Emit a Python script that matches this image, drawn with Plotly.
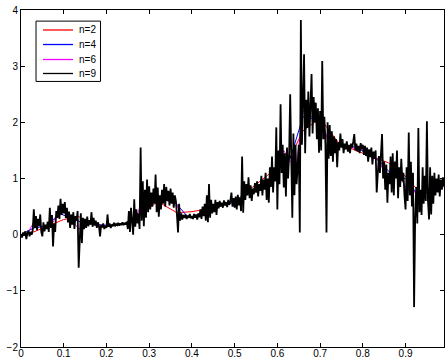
import plotly.graph_objects as go

# ---------------- data ----------------
# n=2 approximation (coarse, red)
x_n2 = [0.0, 0.03, 0.10, 0.135, 0.19, 0.255, 0.32, 0.365, 0.40, 0.455, 0.50, 0.52,
        0.63, 0.66, 0.70, 0.745, 0.80, 0.86, 0.89, 0.94, 0.99]
y_n2 = [0.0, 0.05, 0.27, 0.32, 0.13, 0.21, 0.59, 0.39, 0.41, 0.48, 0.59, 0.71,
        1.38, 1.85, 2.07, 1.62, 1.45, 1.28, 1.12, 0.70, 0.98]

# n=4 approximation (blue), step 0.03
x_step_n4 = 0.03
y_n4 = [0.00, 0.12, 0.15, 0.38, 0.28, 0.20, 0.18, 0.16, 0.19, 0.28,
        0.62, 0.62, 0.58, 0.32, 0.33, 0.48, 0.55, 0.58, 0.80, 0.85,
        1.20, 1.35, 2.10, 2.05, 1.70, 1.58, 1.56, 1.45, 1.30, 1.05,
        1.00, 0.70, 0.85, 0.88]

# n=6 approximation (magenta), step 0.015
x_step_n6 = 0.015
y_n6 = [0.00, 0.02, 0.22, 0.15, 0.12, 0.22, 0.45, 0.40, 0.25, 0.10,
        0.18, 0.20, 0.18, 0.14, 0.16, 0.18, 0.19, 0.25, 0.30, 0.65,
        0.65, 0.68, 0.62, 0.66, 0.62, 0.33, 0.32, 0.32, 0.38, 0.45,
        0.50, 0.52, 0.55, 0.58, 0.58, 0.72, 0.80, 0.85, 0.88, 0.95,
        1.25, 1.50, 1.30, 1.25, 2.20, 2.15, 2.00, 2.05, 1.60, 1.60,
        1.58, 1.57, 1.55, 1.52, 1.45, 1.40, 1.30, 1.00, 1.05, 1.05,
        0.85, 0.85, 0.65, 0.80, 0.80, 0.88, 0.85]

# n=9 approximation (fine, black), step 0.0025
x_step_n9 = 0.0025
y_n9 = [
    0.00, -0.05, 0.04, -0.02, 0.06, -0.08, 0.03, 0.07, -0.03, 0.05, 0.00, 0.08, 0.45, 0.12, 0.33, 0.08, 0.28, 0.15, 0.36, 0.05,
    -0.03, 0.22, 0.06, 0.18, 0.10, 0.23, 0.05, 0.48, 0.12, 0.35, -0.21, 0.20, 0.05, 0.42, 0.30, 0.52, 0.28, 0.64, 0.35, 0.55,
    0.38, 0.58, 0.30, 0.48, 0.22, 0.41, 0.12, 0.36, 0.18, 0.40, 0.10, 0.33, 0.25, 0.42, -0.59, 0.05, 0.38, -0.15, 0.30, 0.10,
    0.28, 0.12, 0.32, 0.15, 0.26, 0.18, 0.40, 0.14, 0.30, 0.16, 0.25, 0.12, 0.22, 0.15, -0.03, 0.17, 0.13, 0.20, 0.10, 0.16,
    0.12, 0.36, 0.14, 0.20, 0.12, 0.18, 0.15, 0.21, 0.15, 0.19, 0.17, 0.21, 0.16, 0.20, 0.17, 0.22, 0.17, 0.21, 0.18, 0.23,
    0.10, 0.42, 0.05, 0.48, 0.15, 0.00, 0.63, 0.14, 0.45, 0.20, 0.38, 0.10, 1.55, 0.25, 0.95, 0.15, 0.80, 0.30, 0.98, 0.40,
    0.86, 0.45, 0.75, 0.50, 0.82, 0.55, 1.07, 0.40, 0.84, 0.32, 0.70, 0.45, 0.80, 0.55, 0.90, 0.50, 0.85, 0.60, 0.78, 0.52,
    0.82, 0.55, 0.75, 0.48, 0.70, 0.60, 0.35, 0.04, 0.55, 0.25, 0.38, 0.27, 0.35, 0.30, 0.36, 0.28, 0.34, 0.30, 0.37, 0.29,
    0.33, 0.28, 0.37, 0.30, 0.36, 0.27, 0.38, 0.31, 0.45, 0.28, 0.50, 0.33, 0.55, 0.25, 0.70, 0.22, 0.90, 0.30, 0.62, 0.38,
    0.55, 0.40, 0.62, 0.35, 0.58, 0.47, 0.60, 0.50, 0.57, 0.48, 0.61, 0.52, 0.58, 0.49, 0.62, 0.53, 0.60, 0.75, 0.50, 0.65,
    0.48, 0.68, 0.45, 0.71, 0.52, 0.66, 0.42, 1.39, 0.39, 0.95, 0.62, 0.90, 0.70, 1.02, 0.65, 0.88, 0.60, 0.82, 0.72, 0.92,
    0.75, 0.95, 0.68, 0.90, 0.78, 1.05, 0.70, 0.98, 0.80, 1.10, 0.62, 1.00, 0.57, 1.20, 0.85, 1.39, 0.75, 1.20, 0.95, 1.91,
    0.45, 1.50, 0.90, 2.32, 1.10, 1.60, 0.84, 1.45, 0.68, 1.55, 1.00, 1.40, 2.50, 0.90, 0.30, 1.80, 0.70, 1.60, 0.90, 1.20,
    1.60, 0.04, 3.82, 1.60, 2.30, 3.21, 1.45, 2.40, 1.90, 2.55, 1.75, 2.20, 2.86, 1.80, 2.45, 2.00, 2.35, 1.70, 2.25, 1.46,
    2.20, 1.50, 3.09, 1.70, 2.10, 1.60, 0.04, 2.00, 1.35, 1.95, 1.40, 1.84, 1.30, 1.75, 1.45, 1.70, 1.20, 1.65, 1.50, 1.80,
    1.55, 1.70, 1.45, 1.62, 1.52, 1.66, 1.48, 1.60, 1.45, 1.62, 1.55, 1.65, 1.79, 1.50, 1.62, 1.48, 1.58, 1.45, 1.63, 1.52,
    1.60, 1.42, 1.58, 1.40, 1.55, 1.30, 1.52, 1.38, 1.55, 1.25, 1.48, 1.35, 1.50, 0.75, 1.20, 1.40, 1.10, 1.55, 1.79, 1.00,
    1.30, 0.80, 1.25, 0.57, 1.10, 0.90, 1.39, 0.75, 1.45, 0.70, 1.30, 1.00, 1.50, 0.65, 1.20, 0.85, 1.35, 0.95, 1.10, 0.70,
    0.45, 1.20, 0.60, 1.82, 0.70, 1.30, 0.50, 1.10, -1.29, 0.30, 0.85, 0.20, 1.90, 0.40, 0.80, 0.35, 1.20, 0.55, 1.05, 0.60,
    2.02, 0.60, 0.27, 1.20, 0.36, 1.05, 0.55, 1.10, 0.70, 1.00, 0.75, 1.07, 0.68, 0.98, 0.80, 1.02, 0.86,
]

series_names = ["n=2", "n=4", "n=6", "n=9"]
series_colors = ["#ff0000", "#0000ff", "#ff00ff", "#000000"]

x_tick_vals = [0, 0.1, 0.2, 0.3, 0.4, 0.5, 0.6, 0.7, 0.8, 0.9]
x_tick_text = ["0", "0.1", "0.2", "0.3", "0.4", "0.5", "0.6", "0.7", "0.8", "0.9"]
y_tick_vals = [-2, -1, 0, 1, 2, 3, 4]
y_tick_text = ["\u22122", "\u22121", "0", "1", "2", "3", "4"]

# ---------------- figure ----------------
x_n4 = [i * x_step_n4 for i in range(len(y_n4))]
x_n6 = [i * x_step_n6 for i in range(len(y_n6))]
x_n9 = [i * x_step_n9 for i in range(len(y_n9))]

FONT = "Liberation Sans, Arial, Helvetica, sans-serif"

fig = go.Figure()
xs = [x_n2, x_n4, x_n6, x_n9]
ys = [y_n2, y_n4, y_n6, y_n9]
widths = [1, 1, 1, 1.8]
for name, col, xv, yv, w in zip(series_names, series_colors, xs, ys, widths):
    fig.add_trace(go.Scatter(x=xv, y=yv, mode="lines", name=name,
                             line=dict(color=col, width=w), showlegend=False,
                             hoverinfo="skip"))

# legend drawn in paper coordinates (MATLAB-style compact box)
leg_x0, leg_x1, leg_y0, leg_y1 = 0.0355, 0.188, 0.788, 0.967
leg_line_x0, leg_line_x1, leg_text_x = 0.052, 0.123, 0.1324
leg_rows = [0.9407, 0.8976, 0.8531, 0.8116]
shapes = [dict(type="rect", xref="paper", yref="paper", x0=leg_x0, x1=leg_x1,
               y0=leg_y0, y1=leg_y1, line=dict(color="black", width=1),
               fillcolor="white", layer="above")]
annotations = []
for name, col, yr in zip(series_names, series_colors, leg_rows):
    shapes.append(dict(type="line", xref="paper", yref="paper", x0=leg_line_x0,
                       x1=leg_line_x1, y0=yr, y1=yr, line=dict(color=col, width=1.3),
                       layer="above"))
    annotations.append(dict(xref="paper", yref="paper", x=leg_text_x, y=yr, text=name,
                            showarrow=False, xanchor="left", yanchor="middle",
                            font=dict(family=FONT, size=10, color="black")))

axis_common = dict(showline=True, linecolor="black", linewidth=1, mirror="ticks",
                   ticks="inside", ticklen=4, tickcolor="black", tickwidth=1,
                   showgrid=False, zeroline=False, automargin=False,
                   tickfont=dict(family=FONT, size=10, color="black"))

fig.update_layout(
    width=445, height=360,
    margin=dict(l=21, r=1, t=10, b=13, pad=0),
    paper_bgcolor="white", plot_bgcolor="white",
    shapes=shapes, annotations=annotations,
    xaxis=dict(range=[0, 0.99], tickvals=x_tick_vals, ticktext=x_tick_text,
               ticklabelstandoff=-3, **axis_common),
    yaxis=dict(range=[-2, 4], tickvals=y_tick_vals, ticktext=y_tick_text, **axis_common),
    font=dict(family=FONT, size=10, color="black"),
)

fig.write_html("out.html", config={"displayModeBar": False, "staticPlot": True},
               post_script="document.body.style.margin='0';")
